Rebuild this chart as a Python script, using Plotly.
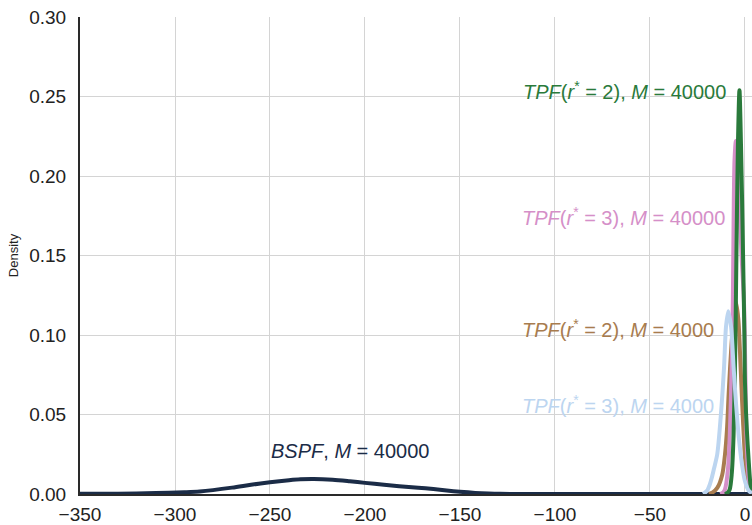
import plotly.graph_objects as go

# BSPF, M = 40000
bspf_x = [-350, -330, -310, -295, -287, -270, -260, -250, -240, -234, -227, -217, -208, -200, -190, -182, -172, -164, -157, -150, -142, -135, -129, -115, -100, -60, -30, 0, 3.7]
bspf_y = [0.0001, 0.0002, 0.0006, 0.0011, 0.0016, 0.0040, 0.0058, 0.0074, 0.0087, 0.0093, 0.0095, 0.0090, 0.0080, 0.0070, 0.0058, 0.0049, 0.0040, 0.0031, 0.0022, 0.0014, 0.0007, 0.0003, 0.0001, 0.0, 0.0, 0.0, 0.0, 0.0, 0.0]

# TPF(r*=3), M = 4000  (light blue)
tpf3_4k_x = [-22, -20, -18.5, -17.5, -16.3, -14.6, -12.8, -11, -10, -8.8, -7.3, -6, -4.9, -3.2, -1.5, 0, 2, 3.7]
tpf3_4k_y = [0.0, 0.002, 0.006, 0.010, 0.016, 0.025, 0.048, 0.080, 0.105, 0.115, 0.105, 0.080, 0.060, 0.035, 0.018, 0.008, 0.002, 0.0005]

# TPF(r*=2), M = 4000  (brown)
tpf2_4k_x = [-19, -17, -14.5, -12, -10.5, -9.5, -8.5, -7.3, -6.2, -4.8, -3.5, -2.3, -1, 0.5, 2, 3.7]
tpf2_4k_y = [0.0, 0.001, 0.004, 0.012, 0.025, 0.040, 0.065, 0.090, 0.108, 0.121, 0.110, 0.080, 0.045, 0.015, 0.004, 0.001]

# TPF(r*=3), M = 40000  (pink)
tpf3_40k_x = [-13, -11.5, -10.5, -9, -8, -7, -6.4, -6, -5.5, -4.8, -4, -3.2, -1.8, -0.5, 0.3, 0.8, 1.8, 3, 3.7]
tpf3_40k_y = [0.0, 0.001, 0.003, 0.015, 0.037, 0.080, 0.120, 0.170, 0.210, 0.222, 0.210, 0.190, 0.150, 0.120, 0.070, 0.037, 0.012, 0.003, 0.001]

# TPF(r*=2), M = 40000  (green)
tpf2_40k_x = [-10.5, -9, -8, -7, -6, -5, -4.5, -3.7, -2.9, -2.1, -1, -0.3, 0.0, 1.0, 2.0, 3.0, 3.7]
tpf2_40k_y = [0.0, 0.001, 0.003, 0.012, 0.037, 0.100, 0.150, 0.220, 0.254, 0.220, 0.150, 0.100, 0.070, 0.040, 0.020, 0.005, 0.002]

x_ticks = [-350, -300, -250, -200, -150, -100, -50, 0]
y_ticks = [0.00, 0.05, 0.10, 0.15, 0.20, 0.25, 0.30]

NAVY = "#1b2c47"
LBLUE = "#bcd5f0"
BROWN = "#a87c4f"
PINK = "#d58fc8"
GREEN = "#2a7a3b"

fig = go.Figure()
series = [
    (bspf_x, bspf_y, NAVY),
    (tpf2_4k_x, tpf2_4k_y, BROWN),
    (tpf3_40k_x, tpf3_40k_y, PINK),
    (tpf2_40k_x, tpf2_40k_y, GREEN),
    (tpf3_4k_x, tpf3_4k_y, LBLUE),
]
for xs, ys, c in series:
    fig.add_trace(go.Scatter(x=xs, y=ys, mode="lines",
                             line=dict(color=c, width=4, shape="spline", smoothing=0.8),
                             showlegend=False, hoverinfo="skip"))

FONT = "Liberation Sans, Arial, Helvetica, sans-serif"
labels = [
    (-8.9, 0.254, "<i>TPF</i>(<i>r</i><sup>*</sup> = 2), <i>M</i> = 40000", GREEN, "right"),
    (-9.5, 0.1744, "<i>TPF</i>(<i>r</i><sup>*</sup> = 3), <i>M</i> = 40000", PINK, "right"),
    (-15.3, 0.1044, "<i>TPF</i>(<i>r</i><sup>*</sup> = 2), <i>M</i> = 4000", BROWN, "right"),
    (-15.3, 0.056, "<i>TPF</i>(<i>r</i><sup>*</sup> = 3), <i>M</i> = 4000", LBLUE, "right"),
    (-208, 0.0272, "<i>BSPF</i>, <i>M</i> = 40000", NAVY, "center"),
]
for x, y, t, c, anc in labels:
    fig.add_annotation(x=x, y=y, text=t, showarrow=False, xanchor=anc, yanchor="middle",
                       font=dict(family=FONT, size=20, color=c))

fig.update_layout(
    width=752, height=525,
    margin=dict(l=80, r=0, t=17, b=31),
    plot_bgcolor="white", paper_bgcolor="white",
    font=dict(family=FONT, size=19, color="#222222"),
    xaxis=dict(range=[-350, 3.7], tickvals=x_ticks, showgrid=True, gridcolor="#d4d4d4", gridwidth=1,
               zeroline=False, showline=True, linecolor="#2a2a2a", linewidth=2,
               ticks="outside", ticklen=2, tickcolor="rgba(0,0,0,0)", automargin=False),
    yaxis=dict(range=[0, 0.30], tickvals=y_ticks, tickformat=".2f", showgrid=True, gridcolor="#d4d4d4",
               gridwidth=1, zeroline=False, showline=True, linecolor="#2a2a2a", linewidth=2,
               ticks="outside", ticklen=8, tickcolor="rgba(0,0,0,0)", automargin=False,
               title=dict(text="Density", font=dict(size=13, family=FONT, color="#222222"), standoff=8)),
)

fig.write_html("out.html", config={"displayModeBar": False},
               post_script="document.body.style.margin='0px';document.body.style.overflow='hidden';")
